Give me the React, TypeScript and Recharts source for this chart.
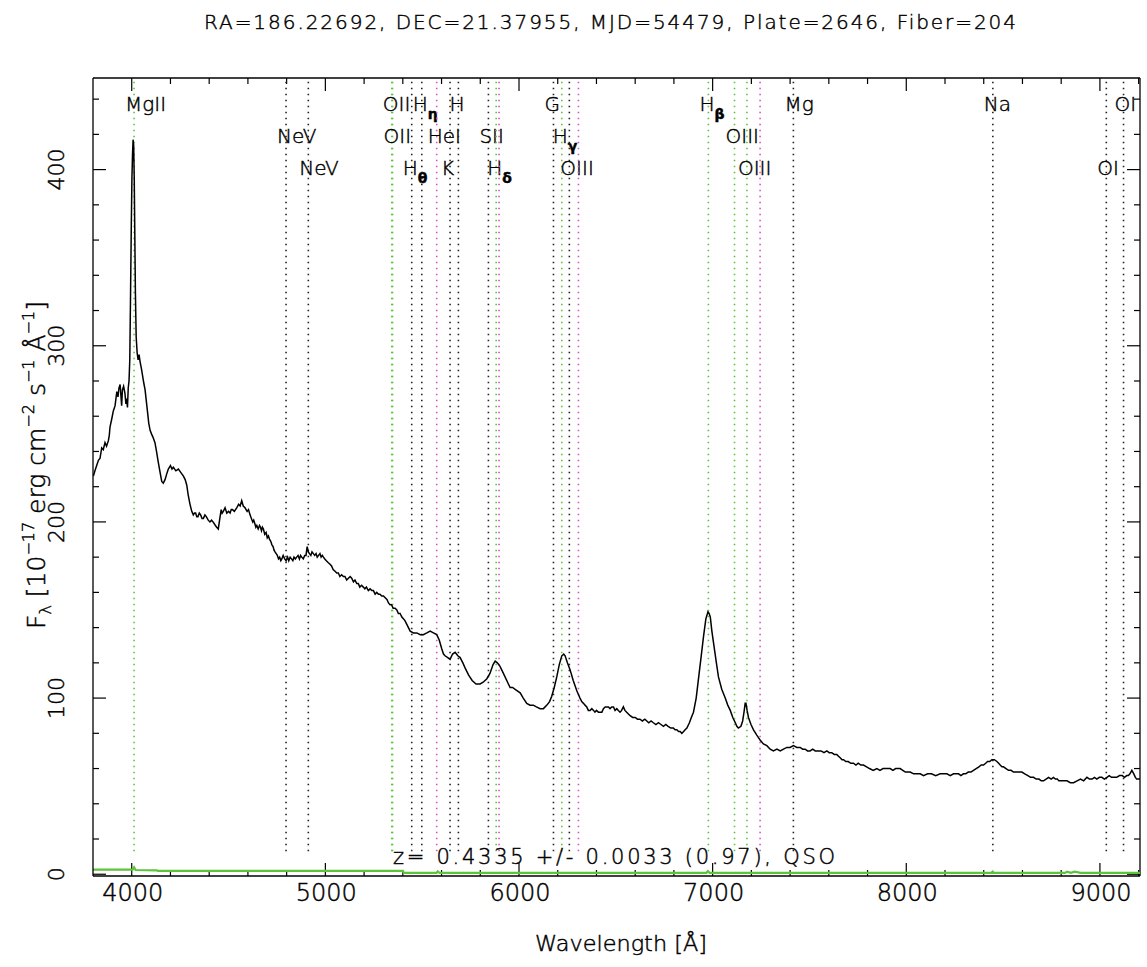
import React from "react";
import { ComposedChart, Line, XAxis, YAxis, ReferenceLine } from "recharts";

// spectrum: [wavelength Å, flux 1e-17 erg/cm2/s/Å]
const specBlue = [
  [3802, 226], [3810, 229], [3819, 232], [3828, 235], [3836, 236], [3845, 242], [3853, 241], [3862, 245], [3870, 243], [3879, 246],
  [3884, 249], [3888, 254], [3896, 258], [3905, 263], [3914, 266], [3923, 274], [3929, 271], [3934, 276], [3940, 278], [3944, 272],
  [3948, 266], [3952, 275], [3958, 277], [3965, 273], [3970, 267], [3974, 270], [3978, 265], [3982, 276], [3986, 280], [3990, 292],
  [3994, 330], [3998, 370], [4001, 395], [4004, 408], [4007, 417], [4010, 414], [4013, 395], [4016, 362], [4019, 330], [4023, 305],
  [4028, 296], [4033, 292], [4038, 295], [4043, 291], [4050, 287], [4056, 283], [4062, 279], [4069, 275], [4076, 268], [4082, 262],
  [4088, 256], [4095, 252], [4102, 250], [4110, 248], [4120, 245], [4128, 240], [4137, 234], [4145, 229], [4155, 223], [4163, 222],
  [4172, 224], [4180, 227], [4189, 230], [4200, 232], [4208, 230], [4215, 231], [4228, 229], [4241, 230], [4254, 228], [4267, 226],
  [4276, 224], [4284, 221], [4292, 215], [4301, 210], [4310, 206], [4318, 204], [4324, 205], [4330, 205], [4336, 203], [4342, 203],
  [4349, 205], [4356, 204], [4363, 202], [4370, 202], [4378, 204], [4385, 203], [4395, 201], [4404, 200], [4412, 201], [4420, 200],
  [4432, 198], [4439, 197], [4447, 196], [4455, 202], [4462, 207], [4467, 205], [4473, 206], [4482, 208], [4491, 205], [4500, 206],
  [4508, 205], [4514, 207], [4520, 207], [4530, 206], [4542, 208], [4552, 210], [4560, 209], [4568, 212], [4576, 209], [4585, 208],
];
const specMid = [
  [4596, 206], [4603, 207], [4611, 204], [4618, 202], [4625, 200], [4630, 201], [4636, 199], [4641, 197], [4646, 198], [4653, 196],
  [4660, 198], [4665, 197], [4670, 195], [4675, 197], [4680, 196], [4687, 193], [4694, 194], [4700, 191], [4706, 192], [4712, 190],
  [4718, 189], [4724, 187], [4730, 186], [4735, 184], [4740, 183], [4746, 182], [4752, 181], [4758, 179], [4764, 180], [4770, 178],
  [4775, 179], [4782, 181], [4790, 179], [4797, 178], [4805, 180], [4811, 178], [4818, 180], [4825, 179], [4832, 178], [4838, 180],
  [4845, 179], [4852, 180], [4859, 181], [4866, 179], [4872, 181], [4878, 180], [4886, 179], [4893, 181], [4900, 181], [4906, 186],
  [4912, 183], [4918, 182], [4925, 181], [4931, 183], [4938, 182], [4945, 181], [4952, 182], [4958, 180], [4965, 181], [4972, 182],
  [4978, 180], [4984, 181], [4990, 180], [4997, 179], [5005, 178], [5014, 177], [5024, 176], [5032, 175], [5040, 173], [5050, 172],
  [5059, 171], [5067, 171], [5075, 169], [5084, 170], [5093, 169], [5101, 169], [5110, 167], [5119, 168], [5128, 169], [5136, 168],
  [5145, 166], [5153, 167], [5162, 165], [5170, 165], [5178, 163], [5187, 164], [5196, 163], [5204, 162], [5212, 163], [5222, 161],
  [5231, 162], [5240, 161], [5248, 161], [5257, 159], [5265, 160], [5274, 159], [5282, 159], [5291, 158], [5300, 158], [5309, 157],
  [5318, 156], [5326, 154], [5334, 153], [5342, 153], [5350, 151], [5360, 151], [5369, 150], [5377, 148], [5386, 148], [5395, 146],
  [5403, 145], [5411, 144], [5420, 142], [5429, 140], [5438, 138], [5455, 137], [5472, 137], [5490, 136], [5506, 136], [5524, 137],
  [5541, 138], [5558, 137], [5575, 136], [5588, 133], [5601, 128], [5610, 125], [5618, 124], [5632, 123], [5644, 122], [5657, 125],
  [5670, 126], [5684, 124], [5696, 123], [5710, 120], [5722, 117], [5740, 113], [5758, 110], [5778, 108], [5799, 108], [5815, 109],
  [5834, 111], [5850, 114], [5866, 119], [5877, 121], [5888, 120], [5902, 118], [5915, 115], [5928, 112], [5941, 109], [5954, 106],
  [5967, 106], [5980, 105], [5993, 104], [6006, 103], [6022, 100], [6040, 97], [6057, 96], [6074, 96], [6090, 95], [6109, 94],
  [6126, 94], [6144, 96], [6158, 98], [6169, 101], [6182, 106], [6195, 112], [6208, 119], [6221, 124], [6231, 125], [6238, 124],
  [6250, 120], [6264, 116], [6280, 110],
];
const specRed = [
  [6299, 104], [6307, 102], [6315, 100], [6324, 98], [6333, 97], [6341, 96], [6350, 95], [6358, 93], [6367, 93], [6376, 94],
  [6385, 93], [6392, 92], [6400, 93], [6410, 92], [6419, 92], [6428, 92], [6436, 94], [6445, 95], [6453, 95], [6462, 95],
  [6470, 94], [6479, 95], [6488, 95], [6496, 93], [6505, 94], [6513, 93], [6522, 92], [6530, 93], [6539, 95], [6547, 93],
  [6556, 92], [6565, 91], [6574, 90], [6587, 89], [6600, 89], [6612, 88], [6625, 88], [6637, 87], [6650, 88], [6660, 87],
  [6670, 86], [6682, 87], [6694, 86], [6707, 85], [6720, 86], [6733, 85], [6746, 84], [6758, 85], [6770, 84], [6784, 83],
  [6797, 83], [6806, 82], [6815, 82], [6824, 81], [6832, 81], [6841, 80], [6850, 81], [6858, 82], [6867, 83], [6880, 86],
  [6890, 89], [6901, 92], [6915, 100], [6927, 111], [6940, 123], [6953, 135], [6965, 145], [6976, 149], [6982, 148], [6988, 146],
  [6996, 138], [7005, 131], [7018, 121], [7030, 112], [7047, 105], [7065, 100], [7078, 96], [7091, 93], [7104, 89], [7117, 86],
  [7125, 84], [7133, 83], [7146, 84], [7155, 87], [7162, 92], [7168, 97], [7172, 97], [7178, 93], [7185, 89], [7198, 85],
  [7211, 82], [7228, 79], [7246, 76], [7262, 74], [7280, 73], [7297, 71], [7314, 70], [7332, 71], [7349, 70], [7366, 71],
  [7383, 72], [7400, 72], [7417, 73], [7435, 72], [7452, 72], [7465, 71], [7478, 71], [7490, 70], [7503, 70], [7517, 71],
  [7530, 70], [7545, 70], [7560, 70], [7575, 69], [7590, 70], [7602, 69], [7615, 69], [7628, 68], [7641, 68], [7650, 67],
  [7660, 66], [7668, 65], [7676, 65], [7688, 64], [7700, 64], [7714, 63], [7727, 63], [7740, 62], [7752, 63], [7765, 62],
  [7779, 62], [7795, 61], [7810, 60], [7829, 59], [7848, 60], [7864, 59], [7880, 60], [7898, 60], [7917, 60], [7931, 59],
  [7945, 60], [7957, 60], [7968, 60], [7982, 59], [7995, 58], [8008, 58], [8020, 58], [8038, 57], [8055, 57], [8072, 57],
  [8089, 56], [8110, 57], [8130, 57], [8152, 56], [8175, 57], [8192, 57], [8210, 57], [8227, 56], [8244, 57], [8257, 57],
  [8270, 57], [8282, 56], [8295, 57], [8307, 57], [8320, 58], [8334, 58], [8347, 59], [8361, 60], [8375, 61], [8387, 62],
  [8399, 62], [8410, 63], [8420, 64], [8431, 64], [8442, 65], [8455, 65], [8468, 64], [8477, 63], [8485, 62], [8494, 61],
  [8502, 61], [8515, 60], [8528, 59], [8541, 59], [8554, 58], [8565, 58], [8575, 58], [8586, 58], [8597, 58], [8612, 57],
  [8628, 56], [8642, 55], [8657, 55], [8671, 54], [8685, 54], [8697, 53], [8709, 53], [8722, 54], [8735, 55], [8748, 54],
  [8760, 55], [8770, 54], [8780, 54], [8788, 53], [8795, 53], [8812, 53], [8830, 53], [8847, 52], [8864, 52], [8882, 53],
  [8900, 54], [8916, 53], [8933, 55], [8946, 54], [8960, 54], [8972, 55], [8984, 54], [8997, 55], [9010, 55], [9023, 54],
  [9036, 55], [9048, 56], [9060, 55], [9073, 55], [9087, 55], [9101, 56], [9115, 56], [9127, 55], [9139, 56], [9147, 56],
  [9155, 57], [9160, 58], [9165, 59], [9170, 58], [9175, 57], [9183, 55], [9190, 54], [9198, 54], [9207, 54],
];

// error array (green, near zero)
const errWave = [3800, 4005, 4012, 4020, 4130, 4135, 5400, 5405, 5575, 5580, 5590, 6968, 6975, 6985, 8440, 8446, 8452, 8820, 8830, 8850, 8870, 8900, 9207];
const errFlux = [2.6, 2.6, 4.0, 2.4, 2.2, 1.9, 1.9, 0.8, 0.8, 1.6, 0.8, 0.8, 1.8, 0.8, 0.8, 1.5, 0.8, 0.8, 1.5, 0.8, 1.5, 0.8, 0.8];

// redshifted line markers
const lineWave = [4012, 4797, 4912, 5343, 5347, 5446, 5498, 5575, 5644, 5687, 5842, 5882, 5897, 6178, 6221, 6260, 6307, 6978, 7113, 7177, 7245, 7417, 8447, 9033, 9122];
const lineName = ["MgII", "NeV", "NeV", "OII", "OII", "Hθ", "Hη", "HeI", "K", "H", "SII", "Hδ", "", "G", "Hγ", "OIII", "", "Hβ", "OIII", "OIII", "", "Mg", "Na", "OI", "OI"];
const lineKind = ["em", "abs", "abs", "em", "em", "abs", "abs", "sky", "abs", "abs", "abs", "em", "sky", "abs", "em", "abs", "sky", "em", "em", "em", "sky", "abs", "abs", "abs", "abs"];
const lineRow = [1, 2, 3, 1, 2, 3, 1, 2, 3, 1, 2, 3, 0, 1, 2, 3, 0, 1, 2, 3, 0, 1, 1, 3, 1];

const xTicks = [4000, 4200, 4400, 4600, 4800, 5000, 5200, 5400, 5600, 5800, 6000, 6200, 6400, 6600, 6800, 7000, 7200, 7400, 7600, 7800, 8000, 8200, 8400, 8600, 8800, 9000, 9200];
const yTicks = [0, 20, 40, 60, 80, 100, 120, 140, 160, 180, 200, 220, 240, 260, 280, 300, 320, 340, 360, 380, 400, 420, 440];

const X0 = 3800;
const X1 = 9207;
const Y0 = -1;
const Y1 = 452;

const spec = [...specBlue, ...specMid, ...specRed].map(([w, f]) => ({ w, f }));
const err = errWave.map((w, i) => ({ w, f: errFlux[i] }));

const W = 1147;
const H = 967;
const M = { top: 78, right: 7, bottom: 0, left: 0 };
const YAXIS_W = 93;
const XAXIS_H = 91;
// data units per pixel, for tick-mark lengths
const plotW = W - M.left - M.right - YAXIS_W;
const plotH = H - M.top - M.bottom - XAXIS_H;
const xPerPx = (X1 - X0) / plotW;
const yPerPx = (Y1 - Y0) / plotH;

const FONT = "'DejaVu Sans', sans-serif";
const INK = "#000";
const txt = { fontFamily: FONT, fontWeight: 200, fill: INK, stroke: INK, strokeWidth: 0.45 };
const kindColor: Record<string, string> = { em: "#5cc43a", abs: "#222222", sky: "#dd4fc4" };

const rowY = [0, 33, 65, 97];

const makeLineLabel = (name: string, row: number) => (p: any) => {
  if (!row || !name) return null;
  const vb = p.viewBox;
  const x = vb.x - 9;
  const y = vb.y + rowY[row];
  const greek = name.length === 2 && name[0] === "H" && name[1] !== "e";
  return (
    <text x={x} y={y} fontSize={20} {...txt}>
      {greek ? (
        <>
          <tspan>H</tspan>
          <tspan dy={8} fontSize={14} fontWeight={600}>{name[1]}</tspan>
        </>
      ) : (
        name
      )}
    </text>
  );
};

const xTickLabel = (v: number) => (p: any) => {
  const vb = p.viewBox;
  return (
    <text x={vb.x + 1} y={vb.y + vb.height + 25} textAnchor="middle" fontSize={24} {...txt}>
      {v}
    </text>
  );
};

const yTickLabel = (v: number) => (p: any) => {
  const vb = p.viewBox;
  const lx = vb.x - 29;
  const ly = vb.y;
  return (
    <text x={lx} y={ly} transform={`rotate(-90 ${lx} ${ly})`} textAnchor="middle" fontSize={22} {...txt}>
      {v}
    </text>
  );
};

const BottomLabel = (p: any) => {
  const vb = p.viewBox;
  return (
    <g>
      <text x={vb.x + 517} y={vb.y - 847} textAnchor="middle" fontSize={20} {...txt} textLength={812} lengthAdjust="spacing">
        RA=186.22692, DEC=21.37955, MJD=54479, Plate=2646, Fiber=204
      </text>
      <text x={vb.x + 521} y={vb.y - 12} textAnchor="middle" fontSize={21} {...txt} textLength={442} lengthAdjust="spacing">
        z= 0.4335 +/- 0.0033 (0.97), QSO
      </text>
      <text x={vb.x + 528} y={vb.y + 75} textAnchor="middle" fontSize={21} {...txt} textLength={172} lengthAdjust="spacingAndGlyphs">
        Wavelength [Å]
      </text>
    </g>
  );
};

const YTitle = (p: any) => {
  const vb = p.viewBox;
  const x = vb.x + 45;
  const y = vb.y + vb.height / 2 - 12;
  return (
    <text x={x} y={y} transform={`rotate(-90 ${x} ${y})`} textAnchor="middle" fontSize={25} {...txt}>
      F<tspan dy={6} fontSize={16}>λ</tspan>
      <tspan dy={-6}> [10</tspan>
      <tspan dy={-11} fontSize={16}>−17</tspan>
      <tspan dy={11}> erg cm</tspan>
      <tspan dy={-11} fontSize={16}>−2</tspan>
      <tspan dy={11}> s</tspan>
      <tspan dy={-11} fontSize={16}>−1</tspan>
      <tspan dy={11}> Å</tspan>
      <tspan dy={-11} fontSize={16}>−1</tspan>
      <tspan dy={11}>]</tspan>
    </text>
  );
};

const App = () => {
  const frame = { stroke: "#000", strokeWidth: 1.3, ifOverflow: "visible" as const, xAxisId: "b", yAxisId: "l" };
  return (
    <div style={{ width: W, height: H, background: "#fff" }}>
      <style>{`body{margin:0;background:#fff}`}</style>
      <ComposedChart width={W} height={H} margin={M}>
        <XAxis
          xAxisId="b"
          type="number"
          dataKey="w"
          domain={[X0, X1]}
          allowDataOverflow
          height={XAXIS_H}
          tick={false}
          tickLine={false}
          axisLine={{ stroke: "#000", strokeWidth: 1.3 }}
          label={BottomLabel}
        />
        <YAxis
          yAxisId="l"
          type="number"
          domain={[Y0, Y1]}
          allowDataOverflow
          width={YAXIS_W}
          tick={false}
          tickLine={false}
          axisLine={{ stroke: "#000", strokeWidth: 1.3 }}
          label={YTitle}
        />
        {/* top and right frame */}
        <ReferenceLine {...frame} segment={[{ x: X0, y: Y1 }, { x: X1, y: Y1 }]} />
        <ReferenceLine {...frame} segment={[{ x: X1, y: Y0 }, { x: X1, y: Y1 }]} />
        {/* inward ticks on all four sides */}
        {xTicks.map((v) => {
          const len = (v % 1000 === 0 ? 13 : 6) * yPerPx;
          return (
            <React.Fragment key={`xt${v}`}>
              <ReferenceLine
                {...frame}
                strokeWidth={1.2}
                segment={[{ x: v, y: Y0 }, { x: v, y: Y0 + len }]}
                label={v % 1000 === 0 ? xTickLabel(v) : undefined}
              />
              <ReferenceLine {...frame} strokeWidth={1.2} segment={[{ x: v, y: Y1 - len }, { x: v, y: Y1 }]} />
            </React.Fragment>
          );
        })}
        {yTicks.map((v) => {
          const len = (v % 100 === 0 ? 13 : 6) * xPerPx;
          return (
            <React.Fragment key={`yt${v}`}>
              <ReferenceLine
                {...frame}
                strokeWidth={1.2}
                segment={[{ x: X0, y: v }, { x: X0 + len, y: v }]}
                label={v % 100 === 0 ? yTickLabel(v) : undefined}
              />
              <ReferenceLine {...frame} strokeWidth={1.2} segment={[{ x: X1 - len, y: v }, { x: X1, y: v }]} />
            </React.Fragment>
          );
        })}
        {lineWave.map((w, i) => (
          <ReferenceLine
            key={i}
            xAxisId="b"
            yAxisId="l"
            segment={[{ x: w, y: 13 }, { x: w, y: Y1 }]}
            stroke={kindColor[lineKind[i]]}
            strokeWidth={1.6}
            strokeDasharray="1.6 4.4"
            ifOverflow="visible"
            label={makeLineLabel(lineName[i], lineRow[i])}
          />
        ))}
        <Line
          data={err}
          xAxisId="b"
          yAxisId="l"
          dataKey="f"
          type="linear"
          stroke="#5cc43a"
          strokeWidth={2.2}
          dot={false}
          activeDot={false}
          isAnimationActive={false}
        />
        <Line
          data={spec}
          xAxisId="b"
          yAxisId="l"
          dataKey="f"
          type="linear"
          stroke="#000"
          strokeWidth={1.5}
          dot={false}
          activeDot={false}
          isAnimationActive={false}
        />
      </ComposedChart>
    </div>
  );
};

export default App;
